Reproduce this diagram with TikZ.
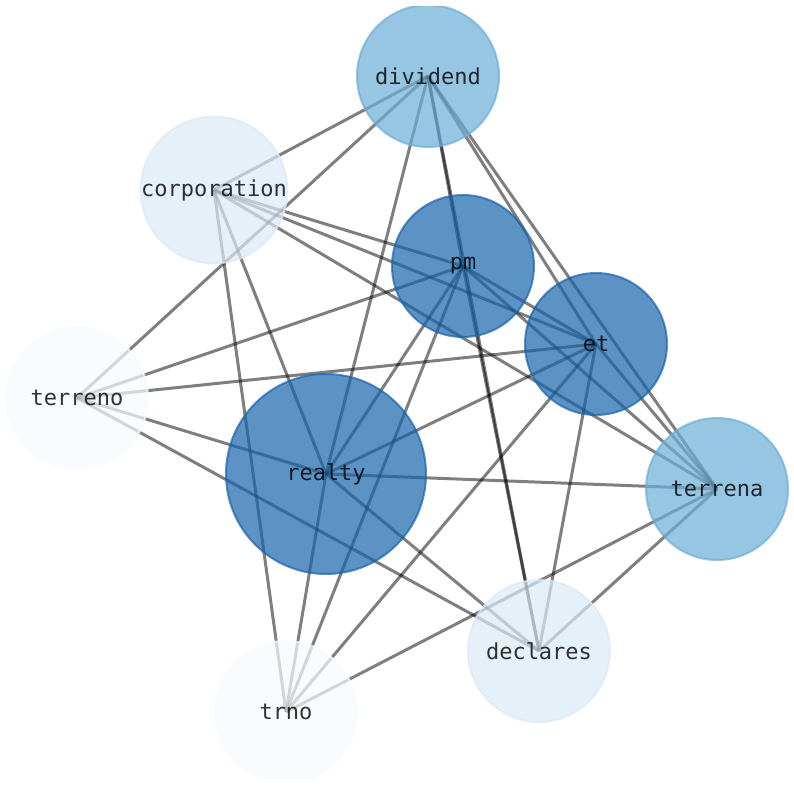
\documentclass[tikz,border=0pt]{standalone}
\usepackage{fontspec}
\setmonofont{DejaVu Sans Mono}
\pgfdeclarelayer{bg}
\pgfsetlayers{bg,main}
\definecolor{bluea}{HTML}{F7FBFF}
\definecolor{blueb}{HTML}{DBE9F6}
\definecolor{bluec}{HTML}{6BAED6}
\definecolor{blued}{HTML}{1764AB}
\begin{document}
\begin{tikzpicture}[x=.5pt,y=-.5pt,
  word/.style={circle,minimum size=71pt,inner sep=0pt,line width=1pt,draw=#1,fill=#1,draw opacity=.7,fill opacity=.7,text opacity=.8,font=\ttfamily\fontsize{11}{13}\selectfont},
  link/.style={line width=1.5pt,black,opacity=.5}]
\useasboundingbox (0,0) rectangle (794,790);
\begin{scope}
\clip (0,7) rectangle (794,779);
\node[word=bluec] (dividend) at (428,76) {dividend};
\node[word=blueb] (corporation) at (214,190) {corporation};
\node[word=blued] (pm) at (463,266) {pm};
\node[word=blued] (et) at (596,344) {et};
\node[word=bluea] (terreno) at (77,398) {terreno};
\node[word=blued,minimum size=100pt] (realty) at (326,474) {realty};
\node[word=bluec] (terrena) at (717,489) {terrena};
\node[word=blueb] (declares) at (539,651) {declares};
\node[word=bluea] (trno) at (286,712) {trno};
\end{scope}
\begin{pgfonlayer}{bg}
\clip (0,7) rectangle (794,779);
\foreach \a/\b in {dividend/corporation,dividend/terreno,dividend/realty,dividend/pm,dividend/declares,dividend/et,dividend/terrena,
  corporation/pm,corporation/et,corporation/terrena,corporation/realty,corporation/trno,
  pm/terreno,pm/realty,pm/trno,pm/declares,pm/et,pm/terrena,
  et/terreno,et/realty,et/trno,et/declares,et/terrena,
  terreno/realty,terreno/declares,realty/terrena,realty/declares,realty/trno,trno/terrena,declares/terrena}
  \draw[link] (\a.center) -- (\b.center);
\end{pgfonlayer}
\end{tikzpicture}
\end{document}
